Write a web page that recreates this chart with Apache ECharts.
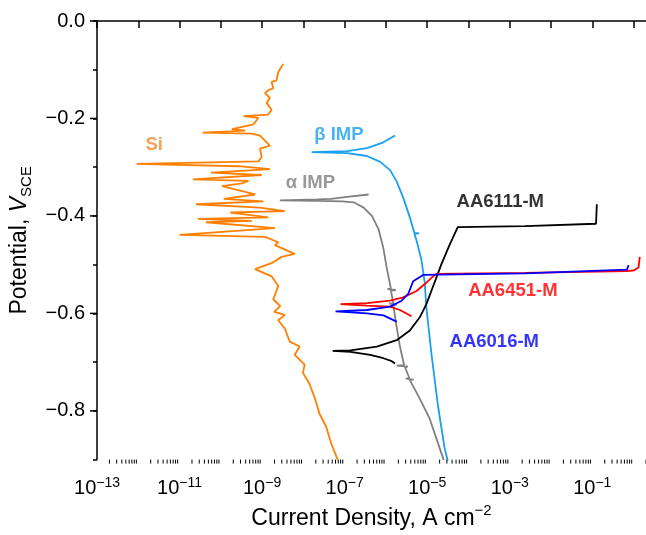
<!DOCTYPE html>
<html>
<head>
<meta charset="utf-8">
<title>Polarisation curves</title>
<script src="https://cdn.jsdelivr.net/npm/echarts@6/dist/echarts.min.js"></script>
<style>
  html, body { margin: 0; padding: 0; background: #fff; }
  #chart { width: 646px; height: 535px; }
</style>
</head>
<body>
<div id="chart"></div>
<script>
// each point: [log10 current density (A cm-2), potential (V vs SCE)]
var siCurve = [
  [-7.17,-0.900],[-7.19,-0.896],[-7.33,-0.866],[-7.45,-0.832],[-7.61,-0.806],[-7.73,-0.772],
  [-7.85,-0.745],[-8.01,-0.722],[-7.97,-0.705],[-8.21,-0.685],[-8.09,-0.668],[-8.33,-0.658],
  [-8.45,-0.631],[-8.61,-0.614],[-8.45,-0.603],[-8.71,-0.597],[-8.56,-0.585],[-8.73,-0.571],
  [-8.61,-0.544],[-8.77,-0.524],[-9.17,-0.509],[-8.77,-0.497],[-8.53,-0.484],[-8.21,-0.478],
  [-8.69,-0.460],[-8.61,-0.454],[-8.93,-0.443],[-11.00,-0.439],[-8.69,-0.425],[-10.36,-0.413],
  [-9.25,-0.410],[-10.56,-0.406],[-8.85,-0.403],[-9.77,-0.393],[-8.45,-0.390],[-9.05,-0.383],
  [-10.60,-0.376],[-8.97,-0.370],[-9.93,-0.365],[-9.17,-0.356],[-9.97,-0.339],[-9.49,-0.333],
  [-9.33,-0.328],[-10.68,-0.325],[-9.01,-0.316],[-10.24,-0.311],[-8.81,-0.304],[-9.57,-0.298],
  [-12.04,-0.293],[-9.09,-0.288],[-9.01,-0.279],[-9.01,-0.275],[-9.05,-0.262],[-8.81,-0.256],
  [-8.89,-0.249],[-9.05,-0.235],[-9.25,-0.231],[-10.44,-0.229],[-9.41,-0.225],[-9.73,-0.222],
  [-9.21,-0.212],[-9.09,-0.199],[-9.45,-0.195],[-8.85,-0.192],[-8.77,-0.182],[-8.89,-0.168],
  [-8.81,-0.158],[-8.93,-0.148],[-8.85,-0.142],[-8.73,-0.138],[-8.77,-0.125],[-8.65,-0.122],
  [-8.61,-0.105],[-8.49,-0.088]
];
var alphaCurve = [
  [-4.60,-0.901],[-4.62,-0.896],[-4.78,-0.856],[-4.94,-0.816],[-5.18,-0.775],
  [-5.42,-0.737],[-5.33,-0.736],[-5.52,-0.734],[-5.43,-0.733],
  [-5.54,-0.710],[-5.47,-0.709],[-5.74,-0.707],[-5.56,-0.706],
  [-5.66,-0.668],[-5.74,-0.628],
  [-5.82,-0.583],[-5.74,-0.582],[-5.92,-0.580],[-5.82,-0.579],
  [-5.88,-0.553],[-5.76,-0.552],[-5.96,-0.550],[-5.88,-0.549],
  [-5.90,-0.547],[-5.98,-0.507],[-6.06,-0.467],[-6.18,-0.427],[-6.34,-0.400],[-6.54,-0.383],
  [-6.78,-0.372],[-7.06,-0.370],[-7.65,-0.369],[-8.57,-0.368],
  [-7.65,-0.366],[-7.33,-0.365],[-6.94,-0.361],[-6.42,-0.356]
];
var betaCurve = [
  [-4.50,-0.903],[-4.58,-0.876],[-4.74,-0.789],[-4.90,-0.681],[-5.02,-0.588],[-5.06,-0.537],
  [-5.14,-0.490],[-5.26,-0.450],[-5.31,-0.437],[-5.20,-0.436],[-5.31,-0.435],[-5.42,-0.403],
  [-5.58,-0.363],[-5.74,-0.329],[-5.90,-0.306],[-6.14,-0.289],[-6.46,-0.277],[-6.94,-0.271],
  [-7.80,-0.269],[-6.94,-0.267],[-6.46,-0.261],[-6.06,-0.249],[-5.78,-0.235]
];
var aa6111Curve = [
  [-5.78,-0.703],[-5.86,-0.698],[-6.06,-0.692],[-6.38,-0.685],[-6.86,-0.679],[-7.29,-0.677],
  [-6.86,-0.676],[-6.22,-0.668],[-5.74,-0.655],[-5.42,-0.635],[-5.18,-0.608],[-5.02,-0.581],
  [-4.90,-0.554],[-4.78,-0.527],[-4.66,-0.500],[-4.46,-0.460],[-4.26,-0.423],[-2.63,-0.421],
  [-0.91,-0.416],[-0.89,-0.413],[-0.89,-0.376]
];
var aa6451Curve = [
  [-5.38,-0.606],[-5.66,-0.593],[-5.90,-0.586],[-6.46,-0.584],[-7.10,-0.581],[-6.46,-0.579],
  [-5.90,-0.574],[-5.58,-0.567],[-5.26,-0.554],[-5.02,-0.537],[-4.86,-0.524],[-4.78,-0.519],
  [-2.63,-0.517],[-0.16,-0.513],[0.00,-0.512],[0.12,-0.506],[0.15,-0.484]
];
var aa6016Curve = [
  [-5.74,-0.617],[-5.78,-0.614],[-6.06,-0.604],[-6.46,-0.600],[-7.22,-0.596],[-6.46,-0.593],
  [-5.90,-0.586],[-5.62,-0.574],[-5.46,-0.560],[-5.34,-0.534],[-5.10,-0.521],[-2.63,-0.518],
  [-0.16,-0.510],[-0.12,-0.510],[-0.12,-0.501]
];

// curve labels: [text, log10 i at left edge, potential, colour]
var curveLabels = [
  ['Si', -11.84, -0.254, '#F28A30'],
  ['\u03b2 IMP', -7.75, -0.234, '#1AA0F0'],
  ['\u03b1 IMP', -8.44, -0.333, '#808080'],
  ['AA6111-M', -4.30, -0.372, '#000000'],
  ['AA6451-M', -4.02, -0.554, '#FF0000'],
  ['AA6016-M', -4.47, -0.658, '#0000FF']
];

var xMin = 1e-13, xMax = 2;
var yMin = -0.9, yMax = 0;
var yMajor = [-0.8, -0.6, -0.4, -0.2, 0];
var minorMantissa = [2, 3, 4, 5, 6, 7, 8, 9];

var FONT = '"Liberation Sans", Arial, sans-serif';

function toPoints(curve) {
  return curve.map(function (p) { return [Math.pow(10, p[0]), p[1]]; });
}

var minorX = [];
for (var k = -13; k <= 0; k++) {
  minorMantissa.forEach(function (m) {
    var v = m * Math.pow(10, k);
    if (v <= xMax) minorX.push([v, yMin]);
  });
}

function curveSeries(name, curve, color) {
  return {
    name: name, type: 'line', data: toPoints(curve),
    showSymbol: false, symbol: 'none',
    lineStyle: { color: color, width: 1.8 },
    z: 3
  };
}

var chart = echarts.init(document.getElementById('chart'));
chart.setOption({
  animation: false,
  grid: { left: 97, right: -7, top: 21, bottom: 66 },
  xAxis: {
    type: 'log', logBase: 10, min: xMin, max: xMax, interval: 1,
    name: '{n|Current Density, A cm}{p|\u22122}',
    nameLocation: 'middle', nameGap: 41,
    nameTextStyle: {
      rich: {
        n: { fontSize: 23, fontFamily: FONT, color: '#000', lineHeight: 30 },
        p: { fontSize: 15, fontFamily: FONT, color: '#000', lineHeight: 15, verticalAlign: 'top' }
      }
    },
    axisLine: { lineStyle: { color: '#000', width: 1.5 } },
    axisTick: { length: 7, lineStyle: { color: '#000', width: 1.5 } },
    splitLine: { show: false },
    axisLabel: {
      margin: 17, showMaxLabel: false,
      formatter: function (v) {
        var e = Math.round(Math.log10(v));
        if (Math.abs(Math.log10(v) - e) > 1e-6 || Math.abs(e) % 2 !== 1) return '';
        return '{b|10}{s|\u2212' + Math.abs(e) + '}';
      },
      rich: {
        b: { fontSize: 20, fontFamily: FONT, color: '#000', lineHeight: 24 },
        s: { fontSize: 14, fontFamily: FONT, color: '#000', lineHeight: 14, verticalAlign: 'top' }
      }
    }
  },
  yAxis: {
    type: 'value', min: yMin, max: yMax, interval: 0.1,
    name: '{n|Potential, }{v|V}{s|SCE}',
    nameLocation: 'middle', nameGap: 56,
    nameTextStyle: {
      rich: {
        n: { fontSize: 23, fontFamily: FONT, color: '#000', lineHeight: 30 },
        v: { fontSize: 23, fontFamily: FONT, color: '#000', lineHeight: 30, fontStyle: 'italic' },
        s: { fontSize: 15, fontFamily: FONT, color: '#000', lineHeight: 15, verticalAlign: 'bottom' }
      }
    },
    axisLine: { show: true, lineStyle: { color: '#000', width: 1.5 } },
    axisTick: { show: true, length: 4, lineStyle: { color: '#000', width: 1.5 } },
    splitLine: { show: false },
    axisLabel: {
      margin: 12, fontSize: 20, fontFamily: FONT, color: '#000',
      formatter: function (v) {
        var t = Math.round(v * 10);
        if (Math.abs(t) % 2 !== 0) return '';
        return t === 0 ? '0.0' : '\u2212' + Math.abs(v).toFixed(1);
      }
    }
  },
  series: [
    curveSeries('Si', siCurve, '#FF8000'),
    curveSeries('alpha IMP', alphaCurve, '#808080'),
    curveSeries('beta IMP', betaCurve, '#1AA0F0'),
    curveSeries('AA6111-M', aa6111Curve, '#000000'),
    curveSeries('AA6451-M', aa6451Curve, '#FF0000'),
    curveSeries('AA6016-M', aa6016Curve, '#0000FF'),
    {
      // log minor ticks below the x axis
      type: 'custom', silent: true, clip: false, z: 5,
      renderItem: function (params, api) {
        var p = api.coord([api.value(0), api.value(1)]);
        return { type: 'line', shape: { x1: p[0], y1: p[1], x2: p[0], y2: p[1] + 4 },
                 style: { stroke: '#000', lineWidth: 1 } };
      },
      data: minorX
    },
    {
      // longer major ticks on the potential axis
      type: 'custom', silent: true, clip: false, z: 5,
      renderItem: function (params, api) {
        var p = api.coord([api.value(0), api.value(1)]);
        return { type: 'line', shape: { x1: p[0] - 7, y1: p[1], x2: p[0], y2: p[1] },
                 style: { stroke: '#000', lineWidth: 1.5 } };
      },
      data: yMajor.map(function (v) { return [xMin, v]; })
    },
    {
      type: 'scatter', silent: true, symbolSize: 1, z: 6,
      itemStyle: { color: 'rgba(0,0,0,0)' },
      label: {
        show: true, position: 'right', distance: 0, formatter: '{b}',
        fontSize: 18.5, fontWeight: 'bold', fontFamily: FONT
      },
      data: curveLabels.map(function (l) {
        return { name: l[0], value: [Math.pow(10, l[1]), l[2]], label: { color: l[3] } };
      })
    }
  ]
});
</script>
</body>
</html>
